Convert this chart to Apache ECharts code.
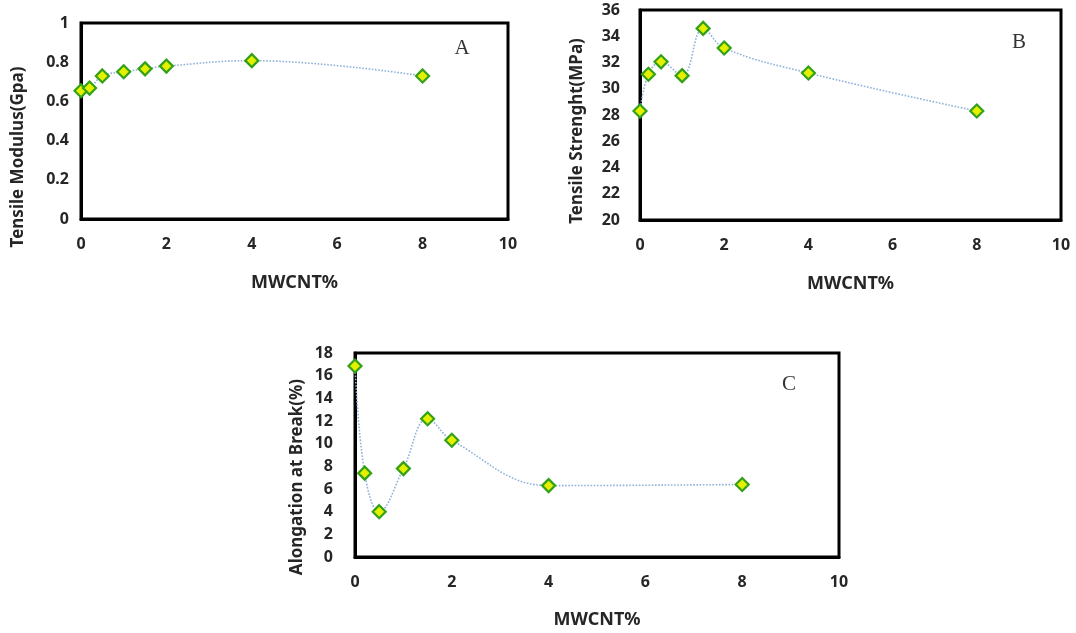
<!DOCTYPE html>
<html>
<head>
<meta charset="utf-8">
<script src="https://cdn.jsdelivr.net/npm/echarts@6/dist/echarts.min.js"></script>
<style>
html,body{margin:0;padding:0;background:#fff;}
#main{width:1076px;height:633px;}
</style>
</head>
<body>
<div id="main"></div>
<script>
// Data
const mwcnt = [0, 0.2, 0.5, 1, 1.5, 2, 4, 8];
const tensileModulus = [0.654, 0.668, 0.730, 0.751, 0.766, 0.780, 0.808, 0.730];
const tensileStrength = [28.3, 31.1, 32.05, 31.0, 34.6, 33.1, 31.2, 28.3];
const elongation = [16.85, 7.4, 4.0, 7.8, 12.2, 10.3, 6.3, 6.4];

const xTicks = {min: 0, max: 10, interval: 2};
const yTicksA = {min: 0, max: 1, interval: 0.2};
const yTicksB = {min: 20, max: 36, interval: 2};
const yTicksC = {min: 0, max: 18, interval: 2};

const xName = 'MWCNT%';
const yNames = ['Tensile Modulus(Gpa)', 'Tensile Strenght(MPa)', 'Alongation at Break(%)'];
const panelLetters = ['A', 'B', 'C'];

const chart = echarts.init(document.getElementById('main'));
const textColor = '#262626';
const tickFont = {color: textColor, fontFamily: 'Noto Sans', fontWeight: 'bold', fontSize: 16};
const xNameFont = {color: textColor, fontFamily: 'Noto Sans', fontWeight: 'bold', fontSize: 18};
const yNameFont = {color: textColor, fontFamily: 'Noto Sans', fontWeight: 'bold', fontSize: 17};

const grids = [
  {left: 81, top: 23, width: 427, height: 196},
  {left: 640, top: 10, width: 421, height: 210},
  {left: 355, top: 353, width: 484, height: 204}
];
const yNameShift = [36, 16, 22];
const yNameGap = [54, 54, 49];
const yLabelMargin = [12, 20, 22];
const xNameGap = [55, 55, 54];
const yRanges = [yTicksA, yTicksB, yTicksC];
const values = [tensileModulus, tensileStrength, elongation];
const letterPos = [[462, 48], [1019, 42], [789, 384]];

const option = {
  backgroundColor: '#ffffff',
  animation: false,
  grid: grids.map(g => Object.assign({show: true, borderColor: '#000', borderWidth: 3, backgroundColor: 'transparent'}, g)),
  xAxis: grids.map((g, i) => ({
    type: 'value', gridIndex: i,
    min: xTicks.min, max: xTicks.max, interval: xTicks.interval,
    name: xName, nameLocation: 'middle', nameGap: xNameGap[i],
    nameTextStyle: xNameFont,
    axisLine: {show: true, lineStyle: {color: '#000', width: 3}},
    axisTick: {show: false},
    splitLine: {show: false},
    axisLabel: Object.assign({margin: 17}, tickFont)
  })),
  yAxis: grids.map((g, i) => ({
    type: 'value', gridIndex: i,
    min: yRanges[i].min, max: yRanges[i].max, interval: yRanges[i].interval,
    name: yNames[i], nameLocation: 'middle', nameGap: yNameGap[i],
    nameTextStyle: Object.assign({padding: [0, yNameShift[i] * 2, 0, 0]}, yNameFont),
    axisLine: {show: true, lineStyle: {color: '#000', width: 3}},
    axisTick: {show: false},
    splitLine: {show: false},
    axisLabel: Object.assign({margin: yLabelMargin[i]}, tickFont)
  })),
  series: values.map((vals, i) => ({
    type: 'line', xAxisIndex: i, yAxisIndex: i,
    data: mwcnt.map((x, k) => [x, vals[k]]),
    smooth: 0.4,
    symbol: 'diamond', symbolSize: 13,
    lineStyle: {type: 'dotted', color: '#8fb2d9', width: 1.6},
    itemStyle: {color: '#e4f000', borderColor: '#33a01a', borderWidth: 2.2},
    z: 3
  })),
  graphic: panelLetters.map((t, i) => ({
    type: 'text', x: letterPos[i][0], y: letterPos[i][1],
    style: {text: t, fontFamily: 'Liberation Serif', fontSize: 21, fill: '#333', align: 'center', verticalAlign: 'middle'}
  }))
};
chart.setOption(option);
</script>
</body>
</html>
